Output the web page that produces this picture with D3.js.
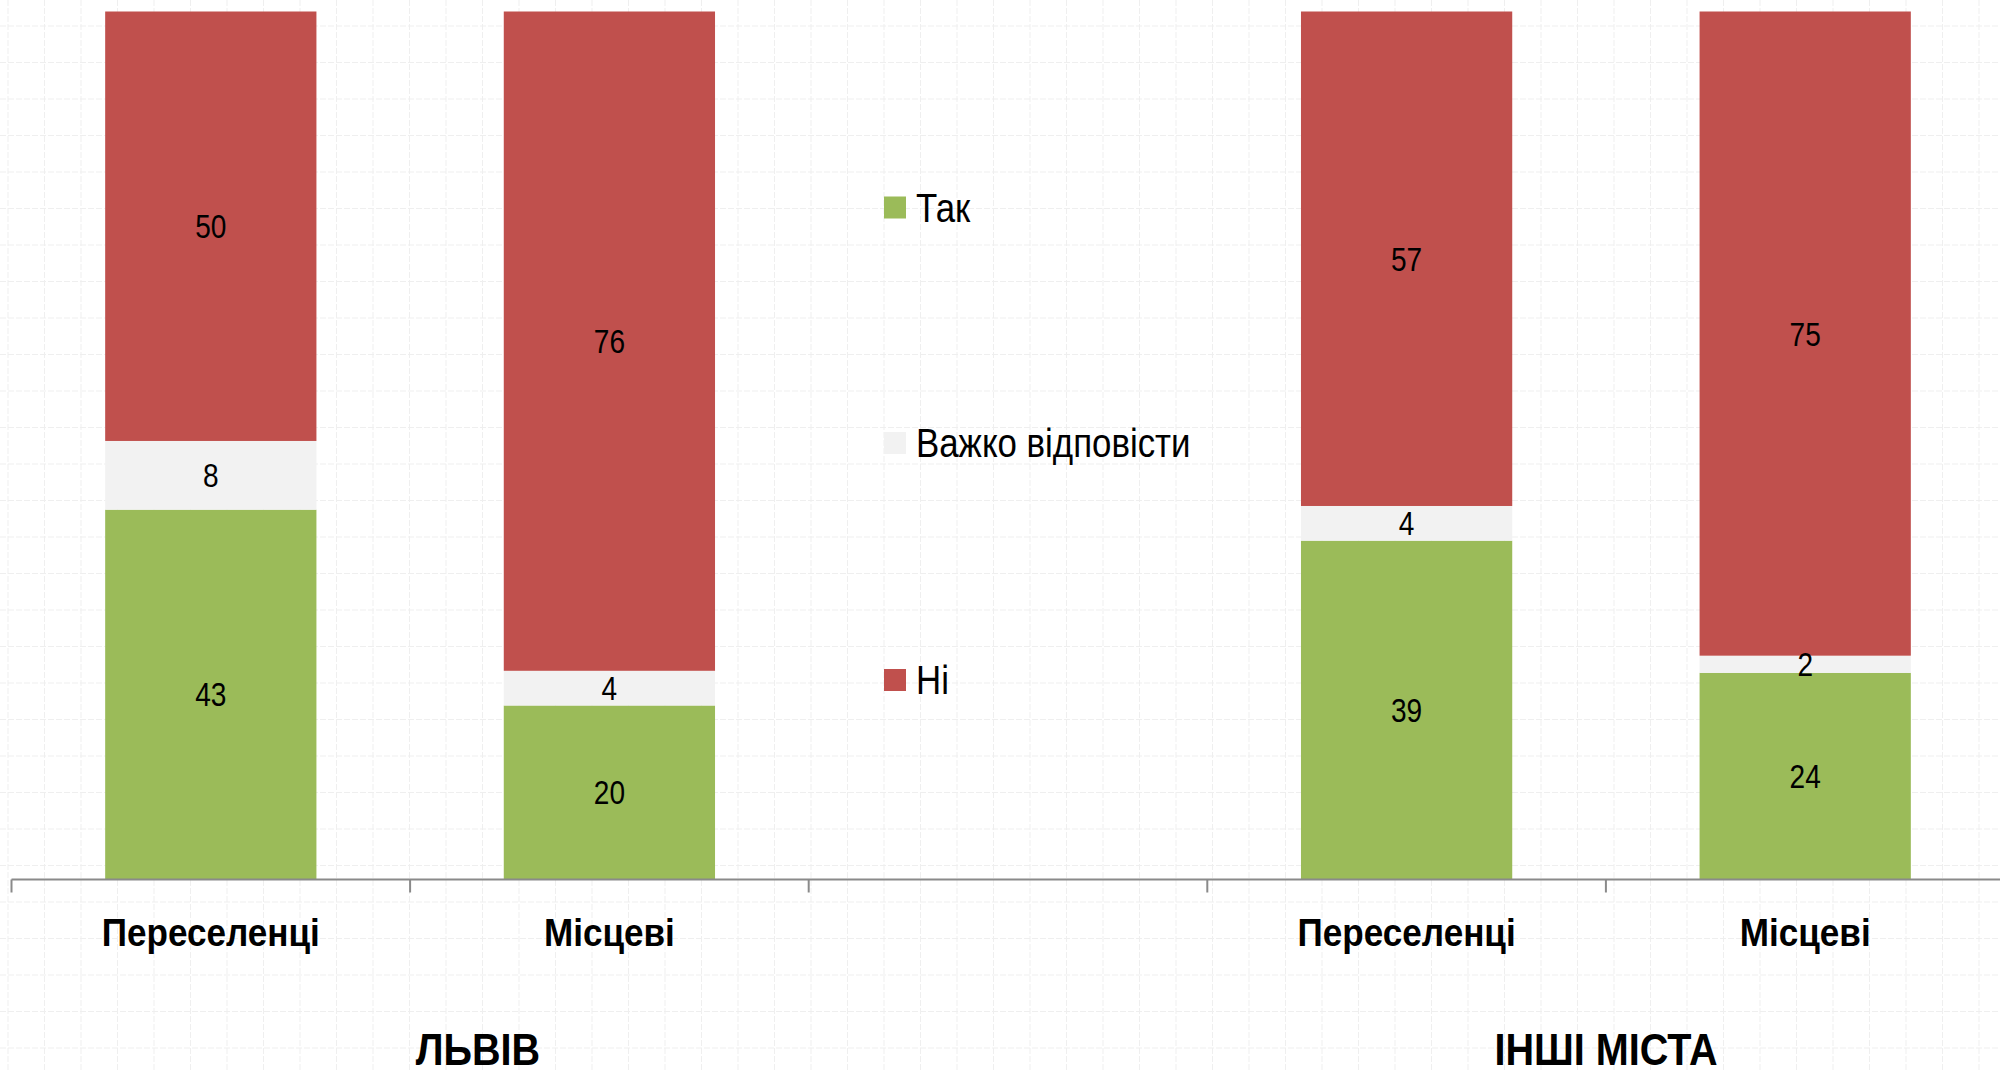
<!DOCTYPE html>
<html>
<head>
<meta charset="utf-8">
<script src="https://cdn.jsdelivr.net/npm/d3@7"></script>
<style>
  html, body { margin: 0; padding: 0; background: #ffffff; }
  svg { display: block; }
  .narrow { font-family: "Liberation Sans", Arial, sans-serif; }
</style>
</head>
<body>
<svg id="chart" width="2000" height="1070"></svg>
<script>
// ---- data ----
const categories = ["Переселенці", "Місцеві", "", "Переселенці", "Місцеві"];
const groups = ["ЛЬВІВ", "ІНШІ МІСТА"];
const seriesNames = ["Так", "Важко відповісти", "Ні"];
const tak   = [43, 20, null, 39, 24];
const hard  = [8, 4, null, 4, 2];
const ni    = [50, 76, null, 57, 75];

// ---- layout ----
const W = 2000, H = 1070;
const axisY = 879.5, topY = 11.5;
const colors = ["#9BBB59", "#F2F2F2", "#C0504D"];
// emulate Arial Narrow by horizontal compression
const NARROW_REG = 0.85, NARROW_BOLD = 0.9;

const svg = d3.select("#chart");

function narrowText(parent, tx, ty, txt, size, weight, anchor) {
  const s = weight === "bold" ? NARROW_BOLD : NARROW_REG;
  return parent.append("text")
    .attr("class", "narrow")
    .attr("transform", `translate(${tx},${ty}) scale(${s},1)`)
    .attr("text-anchor", anchor || "middle")
    .attr("font-size", size)
    .attr("font-weight", weight || "normal")
    .attr("fill", "#000")
    .text(txt);
}

// faint paper grid background
const gridStep = 36.5;
const bg = svg.append("g");
bg.selectAll("line.v").data(d3.range(8, W, gridStep)).join("line")
  .attr("x1", d => d).attr("x2", d => d).attr("y1", 0).attr("y2", H)
  .attr("stroke", "#efefef").attr("stroke-width", 1).attr("stroke-dasharray", "6,2");
bg.selectAll("line.h").data(d3.range(26, H, gridStep)).join("line")
  .attr("y1", d => d).attr("y2", d => d).attr("x1", 0).attr("x2", W)
  .attr("stroke", "#efefef").attr("stroke-width", 1).attr("stroke-dasharray", "6,2");

const x = d3.scaleBand().domain(d3.range(categories.length)).range([11.5, 2004.5]).padding(0);
const y = d3.scaleLinear().domain([0, 1]).range([axisY - 0.5, topY]);
const barW = x.bandwidth() * 0.53;

const rows = categories.map((c, i) => ({ i, s0: tak[i] || 0, s1: hard[i] || 0, s2: ni[i] || 0, valid: tak[i] != null }));
const stack = d3.stack().keys(["s0", "s1", "s2"]).offset(d3.stackOffsetExpand);
const stacked = stack(rows);

const rawVals = [tak, hard, ni];

stacked.forEach((layer, k) => {
  const g = svg.append("g");
  layer.forEach((seg, i) => {
    if (!rows[i].valid) return;
    const cx = x(i) + x.bandwidth() / 2;
    g.append("rect")
      .attr("x", cx - barW / 2)
      .attr("width", barW)
      .attr("y", y(seg[1]))
      .attr("height", y(seg[0]) - y(seg[1]))
      .attr("fill", colors[k]);
  });
});
stacked.forEach((layer, k) => {
  const g = svg.append("g");
  layer.forEach((seg, i) => {
    if (!rows[i].valid) return;
    const cx = x(i) + x.bandwidth() / 2;
    narrowText(g, cx, (y(seg[0]) + y(seg[1])) / 2 + 12, rawVals[k][i], 33);
  });
});

// axis
const axis = svg.append("g");
axis.append("line")
  .attr("x1", x.range()[0]).attr("x2", x.range()[1])
  .attr("y1", axisY).attr("y2", axisY)
  .attr("stroke", "#8a8a8a").attr("stroke-width", 2);
axis.selectAll("line.tick").data(d3.range(categories.length + 1)).join("line")
  .attr("x1", d => x.range()[0] + d * x.step())
  .attr("x2", d => x.range()[0] + d * x.step())
  .attr("y1", axisY).attr("y2", axisY + 13)
  .attr("stroke", "#8a8a8a").attr("stroke-width", 2);

categories.forEach((c, i) => {
  if (c) narrowText(axis, x(i) + x.bandwidth() / 2, 946, c, 39, "bold");
});

const groupX = [478, 1606];
groups.forEach((gname, i) => narrowText(svg, groupX[i], 1065, gname, 44, "bold"));

// legend
const legendY = [207.5, 443, 680];
const leg = svg.append("g");
seriesNames.forEach((name, k) => {
  leg.append("rect")
    .attr("x", 884).attr("y", legendY[k] - 11)
    .attr("width", 22).attr("height", 22)
    .attr("fill", colors[k]);
  narrowText(leg, 916, legendY[k] + 14, name, 41, "normal", "start");
});
</script>
</body>
</html>
